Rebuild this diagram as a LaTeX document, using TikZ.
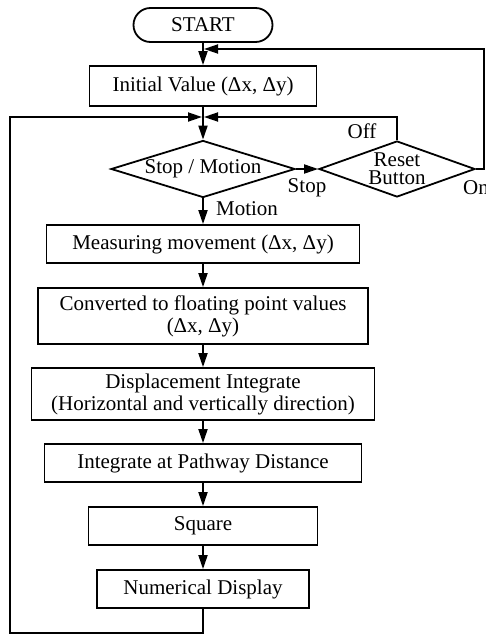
\documentclass[tikz,border=0pt]{standalone}
\usepackage{fontspec}
\setmainfont{Liberation Serif}
\usetikzlibrary{arrows.meta,shapes.geometric}
\begin{document}
\begin{tikzpicture}[x=1pt,y=-1pt,
  every node/.style={font=\fontsize{21}{22}\selectfont, inner sep=0pt},
  box/.style={draw, line width=1.8pt, rectangle, align=center},
  dia/.style={draw, line width=1.8pt, diamond, inner sep=0pt},
  ln/.style={line width=1.8pt},
  arr/.style={line width=1.8pt, -{Triangle[length=14pt,width=9pt]}}]
\useasboundingbox (0,0) rectangle (486,635);

\node[box, rounded corners=17pt, minimum width=139pt, minimum height=34pt] (start) at (203,25) {START};
\node[box, minimum width=227pt, minimum height=40pt] (init) at (203,86) {Initial Value (Δx, Δy)};
\node[dia, minimum width=184pt, minimum height=57pt] (sm) at (203,169) {};
\node (smt) at (sm.center) {Stop / Motion};
\node[dia, minimum width=156pt, minimum height=56pt] (rb) at (397,169) {};
\node[align=center, font=\fontsize{21}{18}\selectfont] (rbt) at (rb.center) {Reset\\Button};
\node[box, minimum width=313pt, minimum height=38pt] (meas) at (203,244) {Measuring movement (Δx, Δy)};
\node[box, minimum width=330pt, minimum height=56pt] (conv) at (203,316) {Converted to floating point values\\(Δx, Δy)};
\node[box, minimum width=343pt, minimum height=52pt] (disp) at (203,394) {Displacement Integrate\\(Horizontal and vertically direction)};
\node[box, minimum width=317pt, minimum height=38pt] (integ) at (203,463) {Integrate at Pathway Distance};
\node[box, minimum width=229pt, minimum height=38pt] (sq) at (203,526) {Square};
\node[box, minimum width=212pt, minimum height=38pt] (num) at (203,589) {Numerical Display};

\node (motl) at (247,209) {Motion};
\node (stopl) at (307,188) {Stop};
\node (offl) at (362,131) {Off};
\node (onl) at (476,188) {On};

\coordinate (j1l) at (202,117);
\coordinate (j1r) at (204,117);
\coordinate (j0) at (204,49);
\coordinate (rcorner) at (484,49);
\coordinate (lb) at (10,633);

\draw[arr] (start) -- (init);
\draw[arr] (init) -- (sm);
\draw[arr] (sm) -- (meas);
\draw[arr] (sm.east) -- (rb.west);
\draw[arr] (rb.north) |- (j1r);
\draw[arr] (rb.east) -| (rcorner) -- (j0);
\draw[arr] (num.south) |- (lb) |- (j1l);
\draw[arr] (meas) -- (conv);
\draw[arr] (conv) -- (disp);
\draw[arr] (disp) -- (integ);
\draw[arr] (integ) -- (sq);
\draw[arr] (sq) -- (num);
\end{tikzpicture}
\end{document}
